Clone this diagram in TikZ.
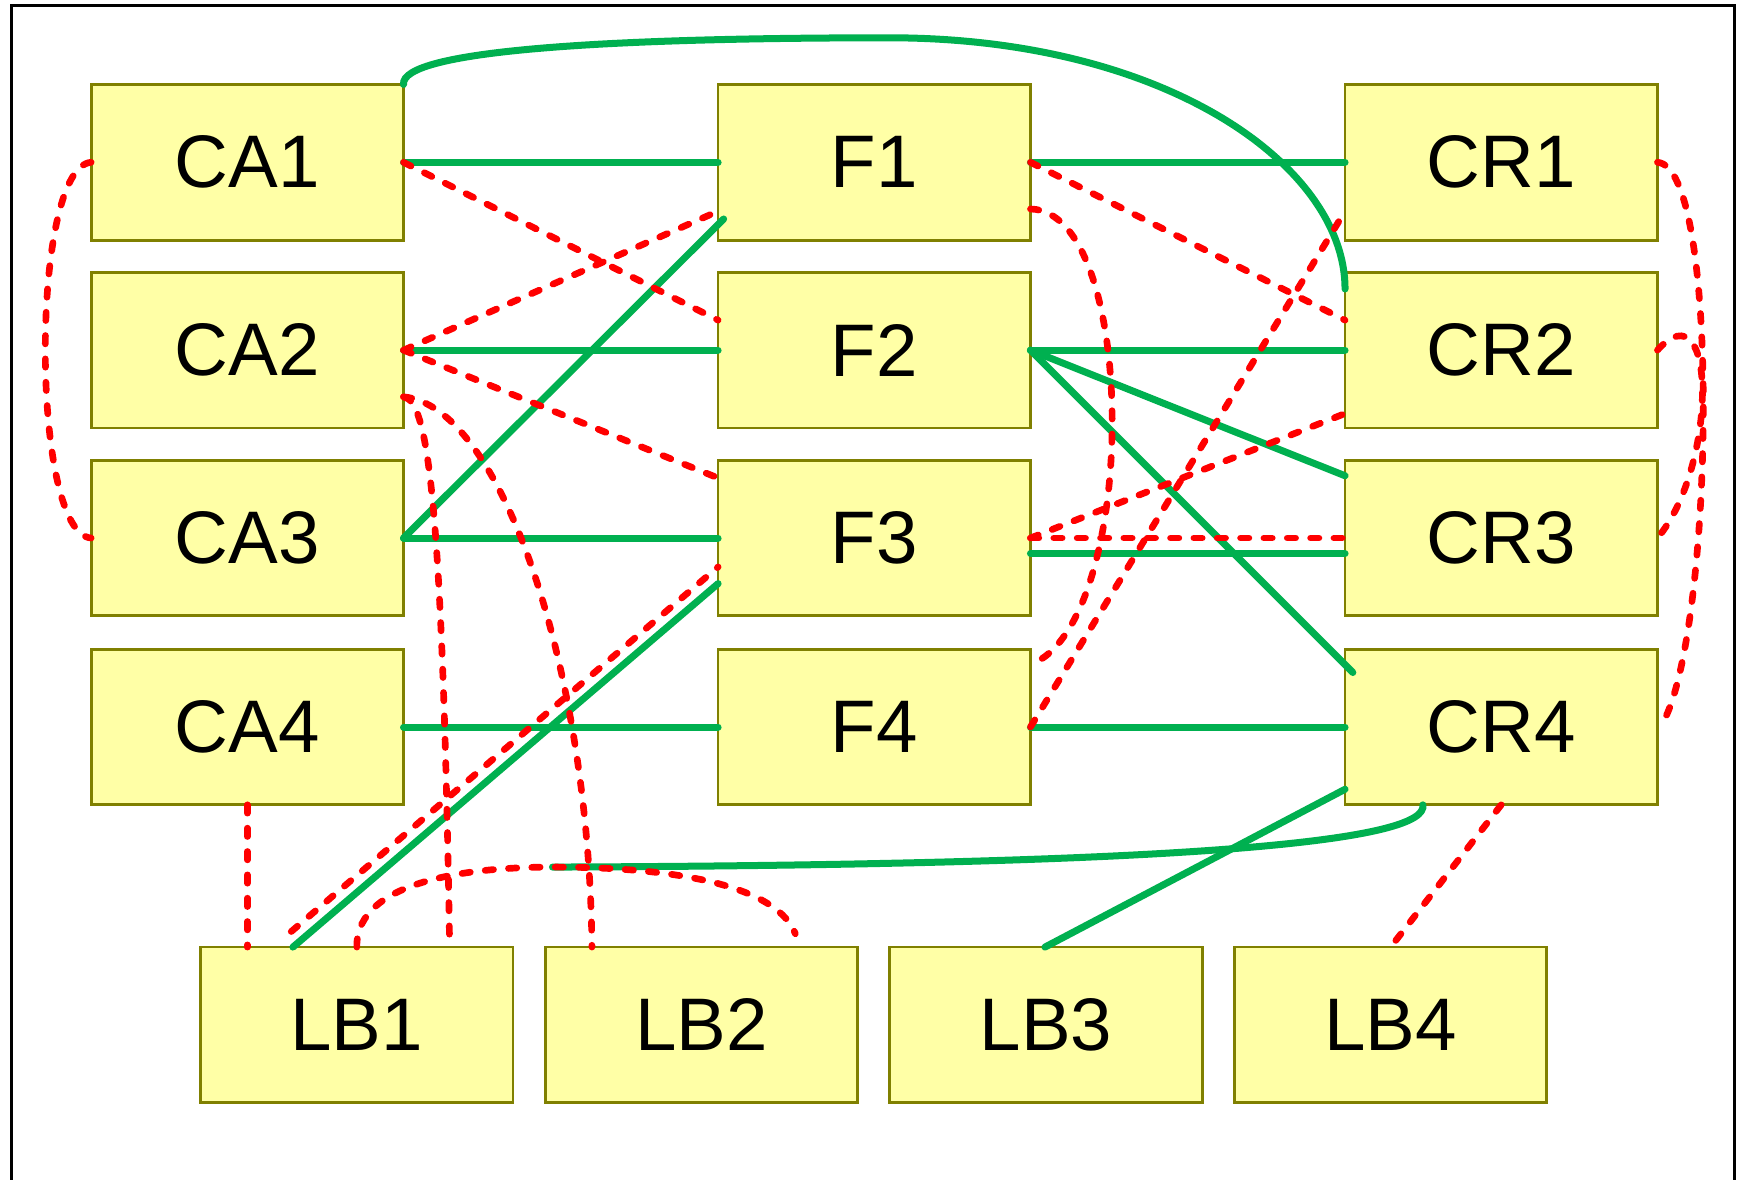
\documentclass[tikz,border=0pt]{standalone}
\usepackage{fontspec}
\setmainfont{Liberation Sans}
\usetikzlibrary{calc}
\definecolor{boxfill}{RGB}{255,255,166}
\definecolor{boxline}{RGB}{128,128,0}
\definecolor{lgreen}{RGB}{0,176,80}
\definecolor{lred}{RGB}{255,0,0}
\begin{document}
\begin{tikzpicture}[x=1pt,y=-1pt,
 box/.style={draw=boxline, fill=boxfill, line width=2.5pt, minimum width=281pt, minimum height=140pt, inner sep=0pt, outer sep=0pt, font=\fontsize{67}{67}\selectfont},
 gline/.style={draw=lgreen, line width=6.3pt, line cap=round},
 rline/.style={draw=lred, line width=6pt, line cap=round, dash pattern=on 7.5pt off 13.5pt},
]
\useasboundingbox (0,0) rectangle (1568,1061);
\fill[white] (0,0) rectangle (1568,1061);
\draw[line width=2.8pt] (10,1075) -- (10,5) -- (1560,5) -- (1560,1075);

\node[box] (CA1) at (222.5,146) {CA1};
\node[box] (CA2) at (222.5,315) {CA2};
\node[box] (CA3) at (222.5,484) {CA3};
\node[box] (CA4) at (222.5,654) {CA4};
\node[box] (F1) at (786.5,146) {F1};
\node[box] (F2) at (786.5,315) {F2};
\node[box] (F3) at (786.5,484) {F3};
\node[box] (F4) at (786.5,654) {F4};
\node[box] (CR1) at (1350.5,146) {CR1};
\node[box] (CR2) at (1350.5,315) {CR2};
\node[box] (CR3) at (1350.5,484) {CR3};
\node[box] (CR4) at (1350.5,654) {CR4};
\node[box] (LB1) at (321,922) {LB1};
\node[box] (LB2) at (631,922) {LB2};
\node[box] (LB3) at (941,922) {LB3};
\node[box] (LB4) at (1251,922) {LB4};

\coordinate (gEnd) at (497,780);
\coordinate (arcTop) at (800,34);
\coordinate (r7s) at (262,838);

% green connectors
\draw[gline] (CA1.east) -- (F1.west);
\draw[gline] (CA2.east) -- (F2.west);
\draw[gline] (CA3.east) -- (F3.west);
\draw[gline] (CA4.east) -- (F4.west);
\draw[gline] (F1.east) -- (CR1.west);
\draw[gline] (F2.east) -- (CR2.west);
\draw[gline] ([yshift=-14pt]F3.east) -- ([yshift=-14pt]CR3.west);
\draw[gline] (F4.east) -- (CR4.west);
\draw[gline] (CA3.east) -- ([xshift=5pt,yshift=19pt]F1.south west);
\draw[gline] (F2.east) -- ([yshift=-14pt]CR3.north west);
\draw[gline] (F2.east) -- ([xshift=7pt,yshift=-21pt]CR4.north west);
\draw[gline] ([xshift=83pt]LB1.north west) -- ([yshift=-41pt]F3.west);
\draw[gline] (CA1.north east) .. controls (360,45) and (550,34) .. (arcTop) .. controls (1050,34) and (1210,150) .. ([yshift=-15pt]CR2.north west);
\draw[gline] ([xshift=70pt]CR4.south west) .. controls (1285,755) and (1100,778) .. (gEnd);
\draw[gline] ([yshift=14pt]CR4.south west) -- ([xshift=-1pt]LB3.north);

% red dotted connectors
\draw[rline] (CA1.west) .. controls (27,150) and (27,480) .. (CA3.west);
\draw[rline] (CA1.east) -- ([yshift=27pt]F2.west);
\draw[rline] (CA2.east) -- ([yshift=26pt]F1.south west);
\draw[rline] (CA2.east) -- ([yshift=-16pt]F3.north west);
\draw[rline] ([yshift=28pt]CA2.south east) .. controls (385,360) and (398,450) .. ([xshift=-57pt]LB1.north east);
\draw[rline] ([yshift=28pt]CA2.south east) .. controls (450,365) and (530,600) .. ([xshift=42pt]LB2.north west);
\draw[rline] (CA4.south) -- (CA4.south |- LB1.north);
\draw[rline] (r7s) -- ([yshift=-26pt]F3.west);
\draw[rline] (LB1.north) .. controls (320,790) and (430,780) .. (gEnd) .. controls (620,780) and (700,800) .. ([xshift=-56pt,yshift=12pt]LB2.north east);
\draw[rline] (F1.east) -- ([yshift=27pt]CR2.west);
\draw[rline] ([yshift=28pt]F1.south east) .. controls (1025,190) and (1025,560) .. ([yshift=-14pt]F4.north east);
\draw[rline] (F4.east) -- ([yshift=26pt]CR1.south west);
\draw[rline] (F3.east) -- (CR3.west);
\draw[rline] (F3.east) -- ([yshift=13pt]CR2.south west);
\draw[rline] (CR1.east) .. controls (1548,150) and (1542,560) .. ([xshift=6pt,yshift=6pt]CR4.east);
\draw[rline] (CR2.east) .. controls (1545,255) and (1545,420) .. (CR3.east);
\draw[rline] (CR4.south) -- (LB4.north);
\end{tikzpicture}
\end{document}
